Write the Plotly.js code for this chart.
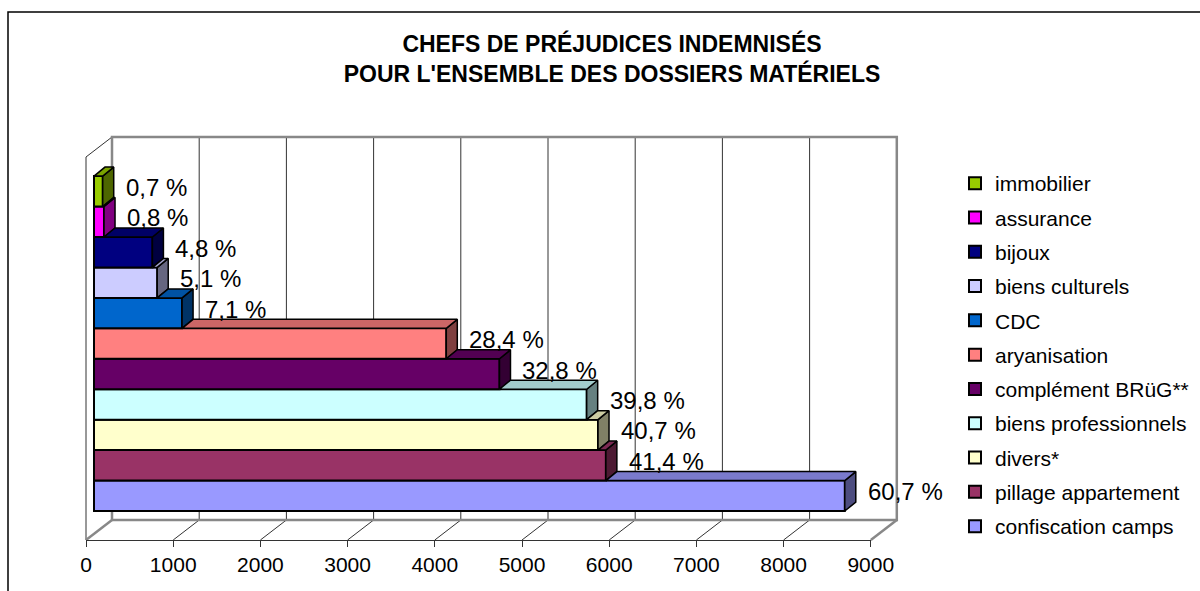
<!DOCTYPE html>
<html><head><meta charset="utf-8">
<script src="https://cdn.plot.ly/plotly-3.0.1.min.js"></script>
<style>html,body{margin:0;padding:0;background:#fff}#chart{width:1200px;height:591px}</style>
</head><body><div id="chart"></div>
<script>
// ---- data (bottom bar first) ----
const categories = ['confiscation camps','pillage appartement','divers*','biens professionnels','complément BRüG**','aryanisation','CDC','biens culturels','bijoux','assurance','immobilier'];
const values = [8610, 5870, 5780, 5650, 4650, 4040, 1010, 725, 670, 115, 100];
const pctLabels = ['60,7 %','41,4 %','40,7 %','39,8 %','32,8 %','28,4 %','7,1 %','5,1 %','4,8 %','0,8 %','0,7 %'];
const frontColors = ['#9999FF','#993366','#FFFFCC','#CCFFFF','#660066','#FF8080','#0066CC','#CCCCFF','#000080','#FF00FF','#99CC00'];
const tickVals = [0,1000,2000,3000,4000,5000,6000,7000,8000,9000];
const titleText = "CHEFS DE PRÉJUDICES INDEMNISÉS<br>POUR L'ENSEMBLE DES DOSSIERS MATÉRIELS";

// ---- projection geometry (layout) ----
const W = 1200, H = 591;
const KX = 0.0872, KY = 30.45;          // px per x unit, px per category
const BAR_X0 = 94, BAR_Y0 = 495.8;       // pixel of value 0 / first category centre on bar plane
function ux(px){ return (px - BAR_X0) / KX; }
function uy(py){ return (BAR_Y0 - py) / KY; }
const DEPTH_DX = 11 / KX, DEPTH_DY = 9 / KY;
const FRONT_DX = -8 / KX, BACK_DX = 18 / KX;
const FLOOR_FRONT = uy(540), FLOOR_BACK = uy(520), TOP_BACK = uy(137), TOP_FRONT = uy(157);
const XMAX = tickVals[tickVals.length - 1];
const FONT = 'Liberation Sans, Arial, sans-serif';

function shade(hex, f){
  const n = parseInt(hex.slice(1), 16);
  const r = Math.round(((n >> 16) & 255) * f), g = Math.round(((n >> 8) & 255) * f), b = Math.round((n & 255) * f);
  return 'rgb(' + r + ',' + g + ',' + b + ')';
}

const N = categories.length;
const traces = [];
// front faces: real bars (legend lists the top bar first)
for (let i = 0; i < N; i++) {
  traces.push({
    type: 'bar', orientation: 'h', x: [values[i]], y: [i], width: 1,
    name: categories[i], legendgroup: 'g' + i, legendrank: 1000 + (N - i),
    marker: { color: frontColors[i], line: { color: '#000', width: 2 } },
    hoverinfo: 'name+x'
  });
}
// side and top faces, from top bar to bottom bar
for (let i = N - 1; i >= 0; i--) {
  const v = values[i];
  traces.push({
    type: 'scatter', mode: 'lines', fill: 'toself', fillcolor: shade(frontColors[i], 0.5),
    x: [v, v + DEPTH_DX, v + DEPTH_DX, v, v],
    y: [i - 0.5, i - 0.5 + DEPTH_DY, i + 0.5 + DEPTH_DY, i + 0.5, i - 0.5],
    line: { color: '#000', width: 1.5 }, showlegend: false, hoverinfo: 'skip'
  });
  const left = (i === N - 1) ? 0 : values[i + 1];
  if (left < v) {
    traces.push({
      type: 'scatter', mode: 'lines', fill: 'toself', fillcolor: shade(frontColors[i], 0.8),
      x: [left, v, v + DEPTH_DX, left + DEPTH_DX, left],
      y: [i + 0.5, i + 0.5, i + 0.5 + DEPTH_DY, i + 0.5 + DEPTH_DY, i + 0.5],
      line: { color: '#000', width: 1.5 }, showlegend: false, hoverinfo: 'skip'
    });
  }
}
// carrier for the value axis
traces.push({ type: 'scatter', mode: 'markers', x: [0], y: [null], xaxis: 'x2', yaxis: 'y', showlegend: false, hoverinfo: 'skip' });

// ---- walls / floor ----
const shapes = [];
const thin = { color: '#333', width: 1 };
const edge = { color: '#888', width: 2.5 };
tickVals.forEach(t => {
  if (t === 0 || t === XMAX) return;
  shapes.push({ type: 'line', xref: 'x', yref: 'y', layer: 'below', x0: t + BACK_DX, x1: t + BACK_DX, y0: FLOOR_BACK, y1: TOP_BACK, line: thin });
  shapes.push({ type: 'line', xref: 'x', yref: 'y', layer: 'below', x0: t + FRONT_DX, x1: t + BACK_DX, y0: FLOOR_FRONT, y1: FLOOR_BACK, line: thin });
});
// left wall
shapes.push({ type: 'line', xref: 'x', yref: 'y', layer: 'below', x0: FRONT_DX, x1: FRONT_DX, y0: FLOOR_FRONT, y1: TOP_FRONT, line: thin });
shapes.push({ type: 'line', xref: 'x', yref: 'y', layer: 'below', x0: FRONT_DX, x1: BACK_DX, y0: TOP_FRONT, y1: TOP_BACK, line: thin });
// back wall + floor edges
shapes.push({ type: 'path', xref: 'x', yref: 'y', layer: 'below', line: edge,
  path: 'M' + BACK_DX + ',' + FLOOR_BACK + ' L' + BACK_DX + ',' + TOP_BACK + ' L' + (XMAX + BACK_DX) + ',' + TOP_BACK + ' L' + (XMAX + BACK_DX) + ',' + FLOOR_BACK + ' Z' });
shapes.push({ type: 'line', xref: 'x', yref: 'y', layer: 'below', x0: FRONT_DX, x1: BACK_DX, y0: FLOOR_FRONT, y1: FLOOR_BACK, line: edge });
shapes.push({ type: 'line', xref: 'x', yref: 'y', layer: 'below', x0: XMAX + FRONT_DX, x1: XMAX + BACK_DX, y0: FLOOR_FRONT, y1: FLOOR_BACK, line: edge });
// chart frame
shapes.push({ type: 'rect', xref: 'paper', yref: 'paper', layer: 'below', x0: 8 / W, x1: 1.05, y0: -0.05, y1: 1 - 12 / H, line: { color: '#000', width: 1.5 } });

const annotations = values.map((v, i) => ({
  x: v, y: i, xref: 'x', yref: 'y', text: pctLabels[i], showarrow: false,
  xanchor: 'left', yanchor: 'middle', xshift: 21, yshift: 4,
  font: { family: FONT, size: 24, color: '#000' }
}));

const layout = {
  width: W, height: H, margin: { l: 0, r: 0, t: 0, b: 0 },
  paper_bgcolor: '#fff', plot_bgcolor: 'rgba(0,0,0,0)',
  barmode: 'overlay', bargap: 0,
  title: { text: titleText, x: 0.51, xanchor: 'center', xref: 'paper', y: 1 - 52 / H, yanchor: 'top', yref: 'container',
           font: { family: FONT, size: 23, weight: 'bold', color: '#000' } },
  xaxis: { domain: [0, 1], range: [ux(0), ux(W)], visible: false, fixedrange: true },
  yaxis: { domain: [0, 1], range: [uy(H), uy(0)], visible: false, fixedrange: true },
  xaxis2: { domain: [(BAR_X0 + FRONT_DX * KX) / W, (BAR_X0 + (XMAX + FRONT_DX) * KX) / W], range: [0, XMAX],
            anchor: 'free', position: 1 - 540 / H, tickvals: tickVals, ticktext: tickVals.map(String),
            showgrid: false, zeroline: false, showline: true, linecolor: '#333', linewidth: 1,
            ticks: 'outside', ticklen: 6, tickcolor: '#333', tickwidth: 1,
            tickfont: { family: FONT, size: 21, color: '#000' }, fixedrange: true },
  legend: { x: 955 / W, xanchor: 'left', y: 1 - 163 / H, yanchor: 'top', traceorder: 'grouped', tracegroupgap: 4,
            font: { family: FONT, size: 21, color: '#000' }, bgcolor: 'rgba(0,0,0,0)', borderwidth: 0 },
  shapes: shapes, annotations: annotations, showlegend: true
};

Plotly.newPlot('chart', traces, layout, { displayModeBar: false, staticPlot: true });
</script>
</body></html>
